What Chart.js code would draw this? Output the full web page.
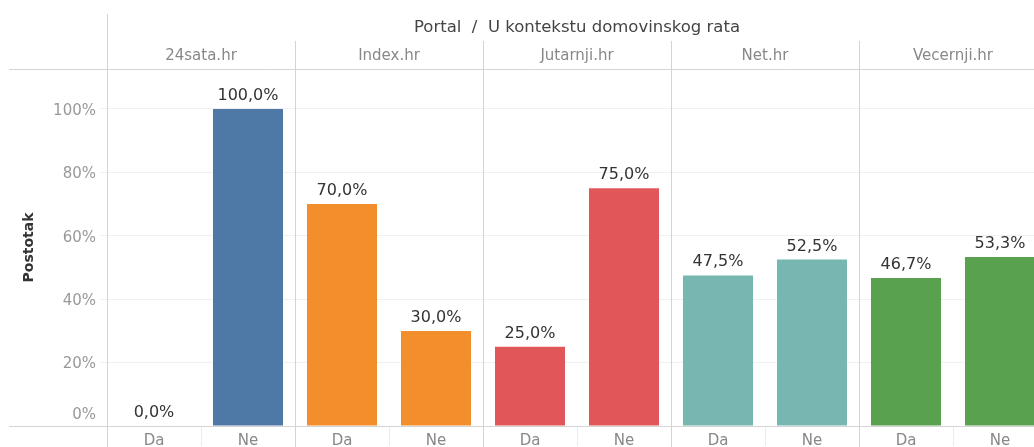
<!DOCTYPE html>
<html>
<head>
<meta charset="utf-8">
<script src="https://cdn.jsdelivr.net/npm/chart.js@4"></script>
<style>
  html, body { margin: 0; padding: 0; background: #fff; overflow: hidden; }
  #wrap { width: 1050px; height: 465px; position: relative; }
</style>
</head>
<body>
<div id="wrap"><canvas id="portalChart"></canvas></div>
<script>
const portals = ['24sata.hr', 'Index.hr', 'Jutarnji.hr', 'Net.hr', 'Vecernji.hr'];
const answers = ['Da', 'Ne'];
const daValues = [0, 70, 25, 47.5, 46.7];
const neValues = [100, 30, 75, 52.5, 53.3];
const portalColors = ['#4e79a7', '#f28e2b', '#e15759', '#76b7b2', '#59a14f'];
const yTicks = [0, 20, 40, 60, 80, 100];

const FONT = "'DejaVu Sans', sans-serif";

// flatten panels into one category axis: Da, Ne, Da, Ne ...
const labels = [];
const values = [];
const colors = [];
portals.forEach((p, i) => {
    labels.push(answers[0], answers[1]);
    values.push(daValues[i], neValues[i]);
    colors.push(portalColors[i], portalColors[i]);
});

function fmt(v) {
    return v.toFixed(1).replace('.', ',') + '%';
}

// headers, panel dividers and value labels
const panelPlugin = {
    id: 'panels',
    afterDraw(chart) {
        const ctx = chart.ctx;
        const area = chart.chartArea;
        const x = chart.scales.x;
        const y = chart.scales.y;
        const lineColor = '#d4d4d4';

        // panel boundaries from the category scale
        const bounds = [area.left];
        for (let i = 1; i < portals.length; i++) {
            bounds.push((x.getPixelForValue(2 * i - 1) + x.getPixelForValue(2 * i)) / 2);
        }
        bounds.push(area.right);

        ctx.save();
        ctx.strokeStyle = lineColor;
        ctx.lineWidth = 1;
        ctx.beginPath();
        // outer left line
        ctx.moveTo(Math.round(area.left) + 0.5, 14);
        ctx.lineTo(Math.round(area.left) + 0.5, chart.height);
        for (let i = 1; i < portals.length; i++) {
            const bx = Math.round(bounds[i]) + 0.5;
            ctx.moveTo(bx, 41);
            ctx.lineTo(bx, chart.height);
        }
        // header bottom and baseline
        ctx.moveTo(9, Math.round(area.top) + 0.5);
        ctx.lineTo(chart.width, Math.round(area.top) + 0.5);
        ctx.moveTo(9, Math.round(area.bottom) + 0.5);
        ctx.lineTo(chart.width, Math.round(area.bottom) + 0.5);
        ctx.stroke();

        // title
        ctx.fillStyle = '#444';
        ctx.font = '16.5px ' + FONT;
        ctx.textAlign = 'center';
        ctx.textBaseline = 'middle';
        ctx.fillText('Portal  /  U kontekstu domovinskog rata', (area.left + area.right) / 2, 28);

        // portal headers
        ctx.fillStyle = '#888';
        ctx.font = '15px ' + FONT;
        portals.forEach((p, i) => {
            ctx.fillText(p, (bounds[i] + bounds[i + 1]) / 2, 56);
        });

        // the 0% tick label sits above the baseline, as in the original
        ctx.fillStyle = '#999';
        ctx.textAlign = 'right';
        ctx.fillText(yTicks[0] + '%', area.left - 11, y.getPixelForValue(yTicks[0]) - 11);

        // value labels
        ctx.fillStyle = '#333';
        ctx.font = '16px ' + FONT;
        ctx.textAlign = 'center';
        ctx.textBaseline = 'alphabetic';
        const meta = chart.getDatasetMeta(0);
        meta.data.forEach((bar, i) => {
            ctx.fillText(fmt(values[i]), bar.x, bar.y - 9);
        });
        ctx.restore();
    }
};

new Chart(document.getElementById('portalChart').getContext('2d'), {
    type: 'bar',
    data: {
        labels: labels,
        datasets: [{
            data: values,
            backgroundColor: colors,
            categoryPercentage: 1,
            barPercentage: 0.745
        }]
    },
    options: {
        responsive: true,
        maintainAspectRatio: false,
        animation: false,
        layout: { padding: { left: 0, right: 3, top: 69, bottom: 0 } },
        plugins: {
            legend: { display: false },
            tooltip: { enabled: false }
        },
        scales: {
            x: {
                afterFit(scale) { scale.height = 39; },
                grid: {
                    display: true,
                    drawOnChartArea: false,
                    offset: true,
                    tickLength: 20,
                    color: '#ececec'
                },
                border: { display: false },
                ticks: {
                    color: '#888',
                    padding: -14,
                    font: { family: FONT, size: 15 }
                }
            },
            y: {
                min: 0,
                max: 112.6,
                afterFit(scale) { scale.width = 107; },
                afterBuildTicks(scale) {
                    scale.ticks = yTicks.map(v => ({ value: v }));
                },
                grid: {
                    color: '#f0f0f0',
                    tickLength: 7
                },
                border: { display: false },
                ticks: {
                    color: '#999',
                    padding: 4,
                    labelOffset: 2,
                    font: { family: FONT, size: 15 },
                    callback: v => (v === yTicks[0] ? '' : v + '%')
                },
                title: {
                    display: true,
                    text: 'Postotak',
                    color: '#333',
                    padding: { top: 21, bottom: 0 },
                    font: { family: FONT, size: 14, weight: 'bold' }
                }
            }
        }
    },
    plugins: [panelPlugin]
});
</script>
</body>
</html>
